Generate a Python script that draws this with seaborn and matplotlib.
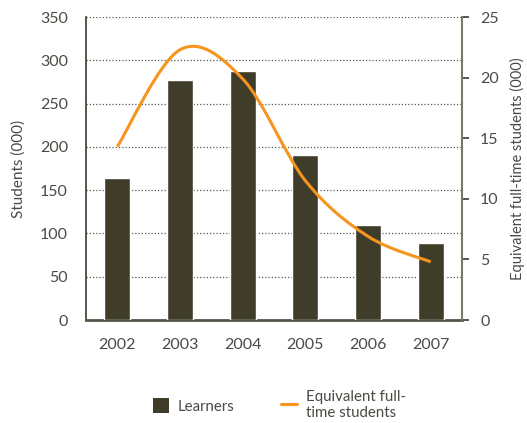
import numpy as np
import pandas as pd
import matplotlib
matplotlib.use("Agg")
import matplotlib.pyplot as plt
from matplotlib.path import Path
from matplotlib.patches import PathPatch, Patch
from matplotlib.lines import Line2D
import seaborn as sns

# data
years = ["2002", "2003", "2004", "2005", "2006", "2007"]
learners = [164, 277, 288, 191, 110, 89]          # students (000), left axis
fte = [14.3, 22.3, 19.9, 11.5, 6.9, 4.8]          # equivalent full-time (000), right axis

bar_color = "#3f3d2a"
line_color = "#f7941d"
text_color = "#4a4a44"
grid_color = "#5a5a50"

sns.set_theme(style="white")
plt.rcParams["font.family"] = ["Lato", "DejaVu Sans"]
plt.rcParams["text.color"] = text_color
plt.rcParams["axes.labelcolor"] = text_color
plt.rcParams["xtick.color"] = text_color
plt.rcParams["ytick.color"] = text_color

df = pd.DataFrame({"year": years, "learners": learners})

fig = plt.figure(figsize=(5.27, 4.23), dpi=100)
ax = fig.add_axes([86 / 527, 1 - 320 / 423, 376 / 527, 303 / 423])

sns.barplot(data=df, x="year", y="learners", color=bar_color, width=0.42,
            saturation=1, ax=ax, zorder=3)
ax.set_xlim(-0.5, 5.5)
ax.set_ylim(0, 350)
ax.set_yticks(range(0, 351, 50))
ax.set_xlabel("")
ax.set_ylabel("Students (000)", fontsize=11, labelpad=10)

# dotted gridlines
for v in range(50, 351, 50):
    ax.axhline(v, color=grid_color, lw=0.9, ls=(0, (1, 1.6)), zorder=1)

ax.tick_params(axis="y", length=0, pad=13, labelsize=11.5)
ax.tick_params(axis="x", which="major", length=0, pad=13, labelsize=11.5)
ax.set_xticks(np.arange(-0.5, 5.6, 1), minor=True)
ax.tick_params(axis="x", which="minor", length=8, width=1.2, color="#4a4a40",
               direction="out")

for s in ["top", "right"]:
    ax.spines[s].set_visible(False)
ax.spines["left"].set_color("#4a4a3a")
ax.spines["left"].set_linewidth(1.3)
ax.spines["bottom"].set_color("#55554a")
ax.spines["bottom"].set_linewidth(2)

# right axis with smoothed line
ax2 = ax.twinx()
ax2.set_ylim(0, 25)
ax2.set_yticks(range(0, 26, 5))
ax2.set_ylabel("Equivalent full-time students (000)", fontsize=10.5, labelpad=8)
ax2.tick_params(axis="y", length=5, width=1.3, pad=8, labelsize=11.5,
                color="#4a4a40")
for s in ["top", "left", "bottom"]:
    ax2.spines[s].set_visible(False)
ax2.spines["right"].set_color("#7a7a6a")
ax2.spines["right"].set_linewidth(1.5)

# smoothed curve through the points (bezier segments)
xs = np.arange(len(fte), dtype=float)
ys = np.array(fte)
pts = list(zip(xs, ys))
verts = [pts[0]]
codes = [Path.MOVETO]
n = len(pts)
for i in range(n - 1):
    p0 = np.array(pts[max(i - 1, 0)])
    p1 = np.array(pts[i])
    p2 = np.array(pts[i + 1])
    p3 = np.array(pts[min(i + 2, n - 1)])
    c1 = p1 + (p2 - p0) / 6
    c2 = p2 - (p3 - p1) / 6
    verts += [tuple(c1), tuple(c2), tuple(p2)]
    codes += [Path.CURVE4] * 3
ax2.add_patch(PathPatch(Path(verts, codes), fill=False, edgecolor=line_color,
                        lw=2.2, zorder=4, capstyle="butt"))

handles = [Patch(facecolor=bar_color, edgecolor="none"),
           Line2D([0], [0], color=line_color, lw=2.2)]
fig.legend(handles, ["Learners", "Equivalent full-\ntime students"],
           loc="center", bbox_to_anchor=(0.53, 1 - 405 / 423), ncol=2,
           frameon=False, fontsize=10.8, handlelength=1.05, handleheight=1.2,
           columnspacing=3.1, handletextpad=0.6)

fig.savefig("out.png", dpi=100)
